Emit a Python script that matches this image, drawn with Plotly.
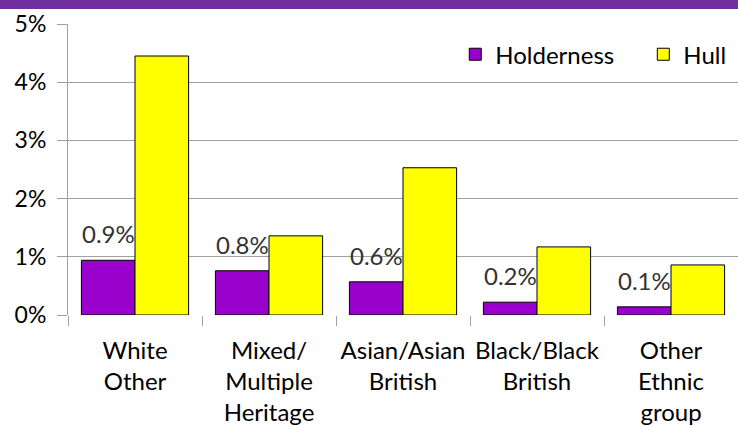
import plotly.graph_objects as go

categories = ["White<br>Other", "Mixed/<br>Multiple<br>Heritage", "Asian/Asian<br>British",
              "Black/Black<br>British", "Other<br>Ethnic<br>group"]
holderness = [0.94, 0.76, 0.57, 0.22, 0.14]
hull = [4.45, 1.36, 2.53, 1.17, 0.86]
holderness_labels = ["0.9%", "0.8%", "0.6%", "0.2%", "0.1%"]
y_ticks = [0, 1, 2, 3, 4, 5]
y_tick_labels = ["0%", "1%", "2%", "3%", "4%", "5%"]

FONT = "Lato"
W, H = 738, 426
ML, MR, MT, MB = 68, 0, 24, 111
plot_h = H - MT - MB
plot_w = W - ML - MR
BARGAP = 0.2

fig = go.Figure()
fig.add_bar(name="Holderness", x=categories, y=holderness, legend="legend",
            marker=dict(color="#9900CC", line=dict(color="black", width=1)))
fig.add_bar(name="Hull", x=categories, y=hull, legend="legend2",
            marker=dict(color="#FFFF00", line=dict(color="black", width=1)))

# data labels above the Holderness bars
offset = -(1 - BARGAP) / 4
for i, (v, lab) in enumerate(zip(holderness, holderness_labels)):
    fig.add_annotation(x=i + offset, y=v, xref="x", yref="y", text=lab,
                       showarrow=False, yanchor="bottom", yshift=10,
                       font=dict(family=FONT, size=24, color="#333333"))

legend_common = dict(orientation="h", y=0.972, yanchor="top",
                     font=dict(family=FONT, size=24, color="black"),
                     bgcolor="rgba(0,0,0,0)", itemwidth=30)
fig.update_layout(
    width=W, height=H,
    margin=dict(l=ML, r=MR, t=MT, b=MB),
    paper_bgcolor="white", plot_bgcolor="white",
    barmode="group", bargap=BARGAP, bargroupgap=0,
    font=dict(family=FONT, size=23, color="black"),
    legend=dict(x=0.578, xanchor="left", **legend_common),
    legend2=dict(x=0.99, xanchor="right", **legend_common),
    showlegend=True,
)
fig.update_xaxes(showgrid=False, ticks="outside", tickson="boundaries", ticklen=10,
                 tickcolor="#A0A0A0", showline=False, ticklabelstandoff=19,
                 tickangle=0,
                 tickfont=dict(family=FONT, size=24, color="black"))
fig.update_yaxes(range=[0, 5], tickvals=y_ticks, ticktext=y_tick_labels,
                 showgrid=True, gridcolor="#A0A0A0", gridwidth=1,
                 showline=True, linecolor="#A0A0A0", linewidth=1,
                 ticks="outside", ticklen=10, tickcolor="#A0A0A0",
                 zeroline=False, ticklabelstandoff=6,
                 tickfont=dict(family=FONT, size=23, color="black"))

# purple strip at top of the slide
fig.add_shape(type="rect", xref="paper", yref="paper",
              x0=-ML / plot_w, x1=1 + MR / plot_w,
              y0=1 + (MT - 9) / plot_h, y1=1 + MT / plot_h,
              fillcolor="#7030A0", line=dict(width=0), layer="above")

fig.write_html("out.html", config={"displayModeBar": False},
               post_script="document.body.style.margin='0';")
